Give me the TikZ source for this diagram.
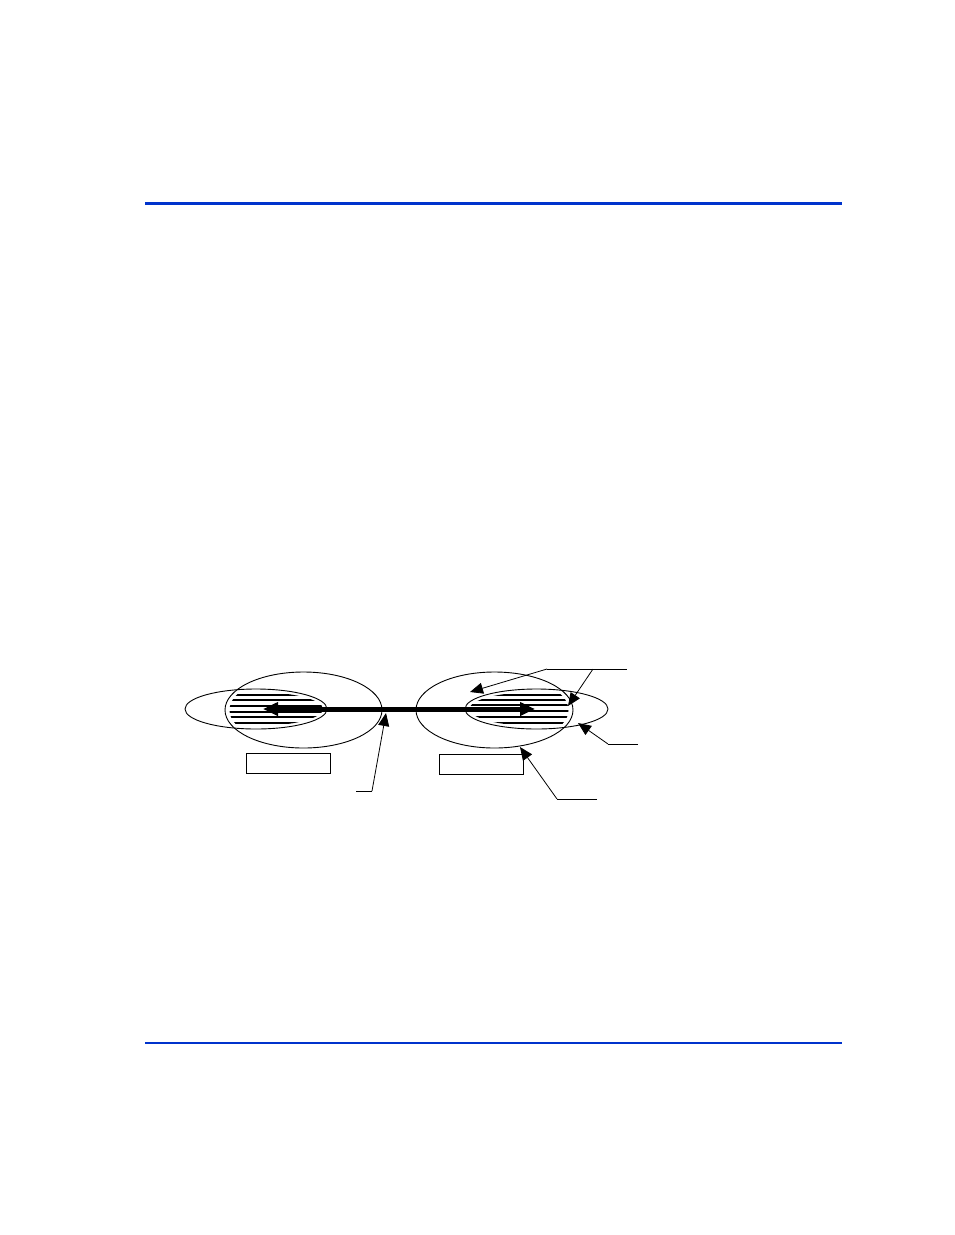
\documentclass[tikz,border=0pt]{standalone}
\usepackage{tikz}
\usetikzlibrary{shapes.geometric,arrows.meta}
\definecolor{rulecol}{RGB}{0,51,204}

\begin{document}
\begin{tikzpicture}[x=1pt,y=-1pt,
  zone/.style={ellipse,draw,line width=0.9pt,inner sep=0pt},
  tag/.style={draw,line width=0.8pt,minimum width=84pt,minimum height=20pt,inner sep=0pt},
  lead/.style={line width=0.8pt},
  point/.style={line width=0.8pt,-{Triangle[length=13pt,width=11pt]}},
  hatch/.style={line width=1.2pt}]
\useasboundingbox (0,0) rectangle (954,1235);
% page rules
\draw [rulecol,line width=3pt] (145,203) -- (842,203);
\draw [rulecol,line width=2pt] (145,1043) -- (842,1043);
% left site
\node [zone,minimum width=142pt,minimum height=40pt] (ls) at (256,709) {};
\node [zone,minimum width=157pt,minimum height=76pt] (lb) at (303.5,710) {};
\begin{scope}
  \clip (256,709) ellipse (67 and 17);
  \clip (303.5,710) ellipse (74 and 35);
  \foreach \y in {695,700,706,712,717,723}
    \draw [hatch] (200,\y) -- (400,\y);
\end{scope}
% right site
\node [zone,minimum width=143pt,minimum height=40pt] (rs) at (536.5,709) {};
\node [zone,minimum width=157pt,minimum height=76pt] (rb) at (494.5,710) {};
\begin{scope}
  \clip (536.5,709) ellipse (67 and 17);
  \clip (494.5,710) ellipse (74 and 35);
  \foreach \y in {695,700,705,711,717,723}
    \draw [hatch] (400,\y) -- (620,\y);
\end{scope}
% link
\coordinate (la) at (263,709);
\coordinate (ra) at (535,709);
\draw [line width=5pt,{Triangle[length=15pt,width=13pt]}-{Triangle[length=15pt,width=13pt]}] (la) -- (ra);
% boxes
\node [tag] (lt) at (288.5,763) {};
\node [tag] (rt) at (481,764) {};
% callouts
\coordinate (c1) at (356,791);
\coordinate (c1k) at (372,791);
\coordinate (c1t) at (386,713);
\draw [lead] (c1) -- (c1k);
\draw [point] (c1k) -- (c1t);
\coordinate (c2a) at (547,669);
\coordinate (c2b) at (593,669);
\coordinate (c2e) at (627,669);
\coordinate (c2t) at (470,692);
\coordinate (c2u) at (568,706);
\draw [lead] (c2a) -- (c2e);
\draw [point] (c2a) -- (c2t);
\draw [point] (c2b) -- (c2u);
\coordinate (c3) at (638,744);
\coordinate (c3k) at (608,744);
\coordinate (c3t) at (578,723);
\draw [lead] (c3) -- (c3k);
\draw [point] (c3k) -- (c3t);
\coordinate (c4) at (597,799);
\coordinate (c4k) at (557,799);
\coordinate (c4t) at (520,747);
\draw [lead] (c4) -- (c4k);
\draw [point] (c4k) -- (c4t);
\end{tikzpicture}
\end{document}
